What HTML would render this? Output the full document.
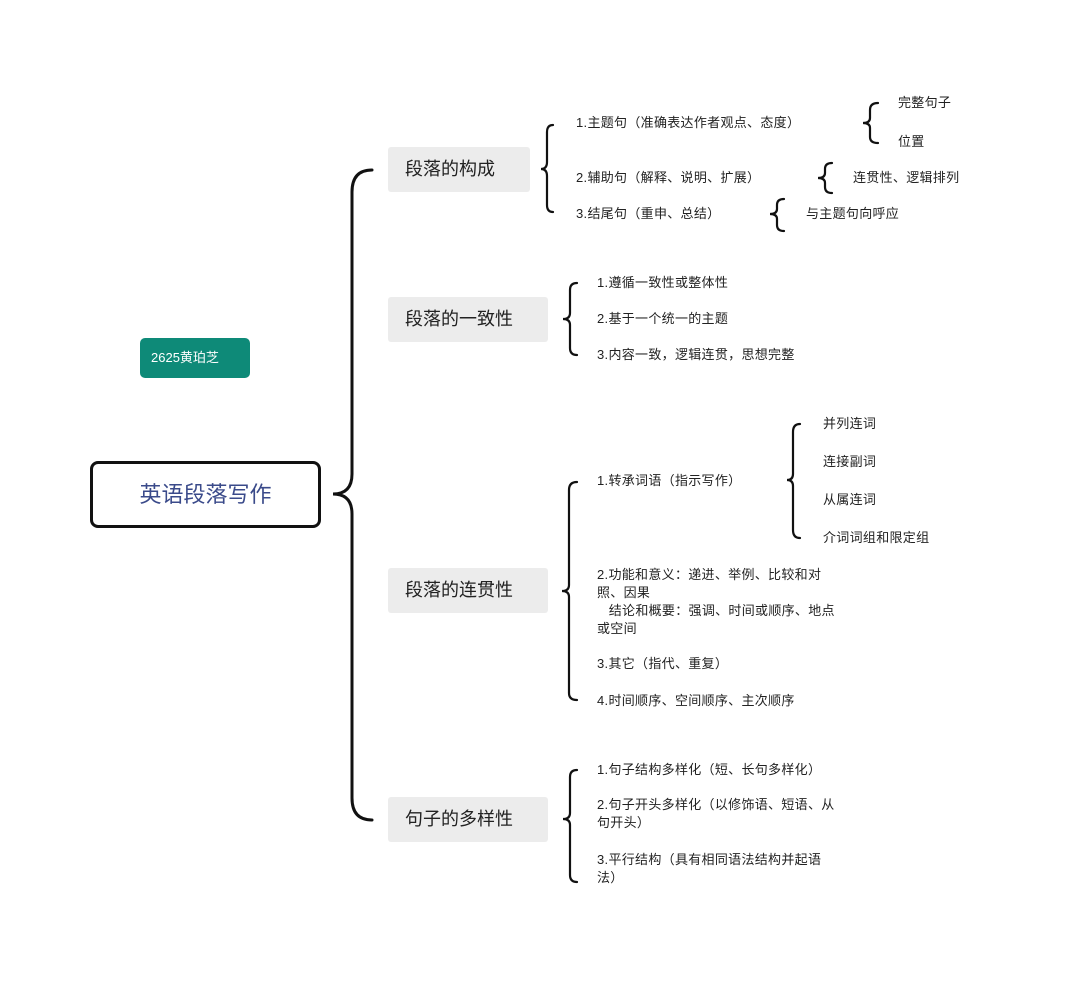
<!DOCTYPE html>
<html><head><meta charset="utf-8">
<style>
html,body{margin:0;padding:0;background:#fff;}
#c{position:relative;width:1080px;height:985px;overflow:hidden;font-family:"Liberation Sans","Noto Sans CJK SC",sans-serif;color:#222;}
.t{position:absolute;font-size:13px;line-height:18px;white-space:nowrap;letter-spacing:0.3px;}
.cat{position:absolute;background:#ececec;font-size:18px;line-height:45px;height:45px;padding-left:17px;box-sizing:border-box;color:#222;border-radius:3px;}
svg{position:absolute;left:0;top:0;}
</style></head><body><div id="c">
<svg width="1080" height="985" fill="none" stroke="#111" stroke-width="2.2" stroke-linecap="round">
<path d="M372 170 Q352 170 352 192 L352 474 Q352 494 333 494 Q352 494 352 514 L352 798 Q352 820 372 820" stroke-width="3"/>
<path d="M553 125 Q547 125 547 132 L547 162 Q547 169 541 169 Q547 169 547 176 L547 205 Q547 212 553 212"/>
<path d="M878 103 Q870 103 870 110 L870 118 Q870 123 863 123 Q870 123 870 128 L870 137 Q870 143 878 143"/>
<path d="M832 163 Q825 163 825 169 L825 173 Q825 178 818 178 Q825 178 825 183 L825 187 Q825 193 832 193"/>
<path d="M784 199 Q777 199 777 205 L777 209 Q777 214 770 214 Q777 214 777 219 L777 225 Q777 231 784 231"/>
<path d="M577 283 Q570 283 570 290 L570 313 Q570 319 563 319 Q570 319 570 325 L570 348 Q570 355 577 355"/>
<path d="M577 482 Q569 482 569 490 L569 585 Q569 591 562 591 Q569 591 569 597 L569 693 Q569 700 577 700"/>
<path d="M800 424 Q793 424 793 432 L793 474 Q793 480 787 480 Q793 480 793 486 L793 530 Q793 538 800 538"/>
<path d="M577 770 Q570 770 570 777 L570 813 Q570 819 563 819 Q570 819 570 825 L570 875 Q570 882 577 882"/>
</svg>

<div style="position:absolute;left:90px;top:461px;width:231px;height:67px;box-sizing:border-box;border:3px solid #111;border-radius:8px;text-align:center;line-height:61px;font-size:22px;color:#3a4a8a;">英语段落写作</div>
<div style="position:absolute;left:140px;top:338px;width:110px;height:40px;background:#0e8a78;border-radius:5px;color:#fff;font-size:13px;line-height:40px;padding-left:11px;box-sizing:border-box;">2625黄珀芝</div>

<div class="cat" style="left:388px;top:147px;width:142px;">段落的构成</div>
<div class="cat" style="left:388px;top:297px;width:160px;">段落的一致性</div>
<div class="cat" style="left:388px;top:568px;width:160px;">段落的连贯性</div>
<div class="cat" style="left:388px;top:797px;width:160px;">句子的多样性</div>

<div class="t" style="left:576px;top:114px;">1.主题句（准确表达作者观点、态度）</div>
<div class="t" style="left:576px;top:169px;">2.辅助句（解释、说明、扩展）</div>
<div class="t" style="left:576px;top:205px;">3.结尾句（重申、总结）</div>
<div class="t" style="left:898px;top:94px;">完整句子</div>
<div class="t" style="left:898px;top:133px;">位置</div>
<div class="t" style="left:853px;top:169px;">连贯性、逻辑排列</div>
<div class="t" style="left:806px;top:205px;">与主题句向呼应</div>

<div class="t" style="left:597px;top:274px;">1.遵循一致性或整体性</div>
<div class="t" style="left:597px;top:310px;">2.基于一个统一的主题</div>
<div class="t" style="left:597px;top:346px;">3.内容一致，逻辑连贯，思想完整</div>

<div class="t" style="left:597px;top:472px;">1.转承词语（指示写作）</div>
<div class="t" style="left:823px;top:415px;">并列连词</div>
<div class="t" style="left:823px;top:453px;">连接副词</div>
<div class="t" style="left:823px;top:491px;">从属连词</div>
<div class="t" style="left:823px;top:529px;">介词词组和限定组</div>
<div class="t" style="left:597px;top:566px;">2.功能和意义：递进、举例、比较和对<br>照、因果<br>&nbsp;&nbsp;&nbsp;结论和概要：强调、时间或顺序、地点<br>或空间</div>
<div class="t" style="left:597px;top:655px;">3.其它（指代、重复）</div>
<div class="t" style="left:597px;top:692px;">4.时间顺序、空间顺序、主次顺序</div>

<div class="t" style="left:597px;top:761px;">1.句子结构多样化（短、长句多样化）</div>
<div class="t" style="left:597px;top:796px;">2.句子开头多样化（以修饰语、短语、从<br>句开头）</div>
<div class="t" style="left:597px;top:851px;">3.平行结构（具有相同语法结构并起语<br>法）</div>
</div></body></html>
